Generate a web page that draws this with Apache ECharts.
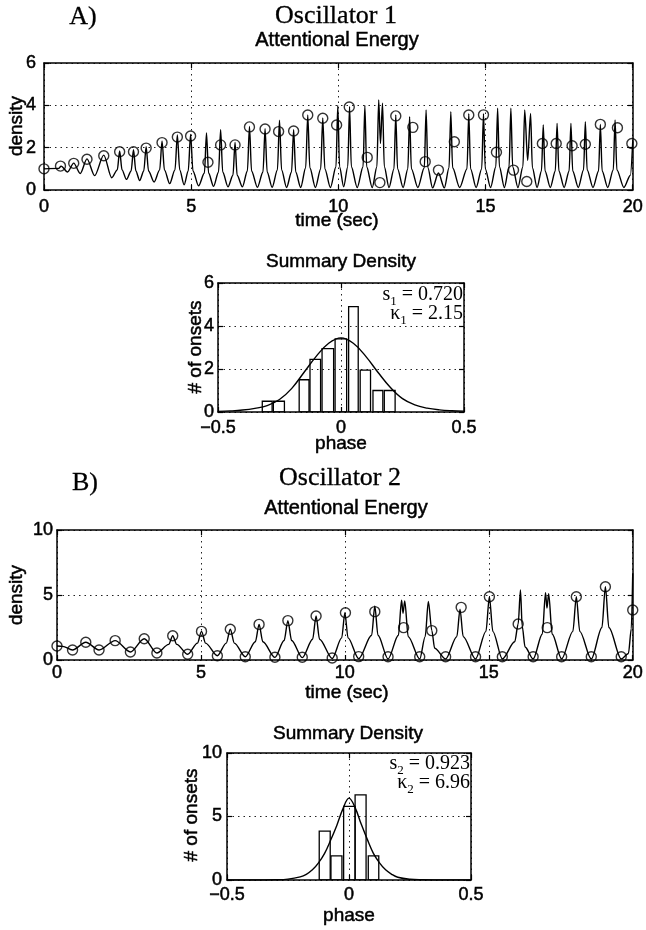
<!DOCTYPE html>
<html><head><meta charset="utf-8">
<script src="https://cdn.jsdelivr.net/npm/echarts@6/dist/echarts.min.js"></script>
<style>html,body{margin:0;padding:0;background:#fff}#c{width:646px;height:930px}</style>
</head><body><div id="c"></div>
<script>
// ---------- DATA ----------
// Oscillator 1: attentional energy curve [time, density]
const oscA_curve = [
[0,1.0],[0.5,1.02],[0.58,1.13],[0.8,0.85],[1.01,1.27],[1.23,0.78],[1.46,1.47],[1.72,0.68],[2.03,1.65],[2.3,0.58],
[2.49,0.95],[2.57,1.85],[2.65,0.95],[2.8,0.5],
[2.96,0.9],[3.04,1.9],[3.12,0.9],[3.25,0.45],
[3.39,0.9],[3.47,2.05],[3.55,0.9],[3.74,0.38],
[3.93,0.95],[4.01,2.32],[4.09,0.95],[4.27,0.3],
[4.45,0.95],[4.53,2.6],[4.61,0.95],[4.76,0.25],
[4.9,0.9],[4.98,2.62],[5.06,0.9],[5.25,0.2],
[5.45,0.8],[5.52,2.7],[5.59,0.8],[5.76,0.17],
[5.93,0.85],[6.0,2.85],[6.07,0.85],[6.25,0.15],
[6.42,0.7],[6.49,2.25],[6.56,0.7],[6.74,0.15],
[6.91,0.9],[6.98,3.0],[7.05,0.9],[7.25,0.13],
[7.44,0.85],[7.51,2.9],[7.58,0.85],[7.75,0.13],
[7.93,0.95],[8.0,3.3],[8.07,0.95],[8.24,0.12],
[8.41,0.85],[8.48,2.85],[8.55,0.85],[8.72,0.12],
[8.89,1.05],[8.96,3.55],[9.03,1.05],[9.22,0.12],
[9.4,1.0],[9.47,3.4],[9.54,1.0],[9.73,0.12],
[9.92,1.1],[9.98,4.0],[10.04,1.1],[10.18,0.15],
[10.32,1.1],[10.38,3.95],[10.44,1.1],[10.64,0.12],
[10.84,1.1],[10.9,4.0],[10.96,1.1],[11.15,0.12],
[11.31,1.1],[11.37,4.25],[11.43,2.2],[11.5,4.1],[11.56,1.1],[11.72,0.12],
[11.89,1.0],[11.95,3.55],[12.01,1.0],[12.2,0.12],
[12.36,1.0],[12.42,3.46],[12.48,1.0],[12.7,0.12],
[12.92,1.05],[12.98,3.78],[13.04,1.05],[13.2,0.1],
[13.4,0.8],[13.6,0.1],
[13.76,1.05],[13.82,3.7],[13.88,1.05],[14.12,0.12],
[14.37,1.0],[14.43,3.6],[14.49,1.0],[14.68,0.12],
[14.87,1.0],[14.93,3.6],[14.99,1.0],[15.17,0.12],
[15.35,1.1],[15.41,3.86],[15.47,1.1],[15.64,0.12],
[15.8,1.1],[15.86,3.86],[15.92,1.1],[16.1,0.12],
[16.27,1.1],[16.33,3.78],[16.43,1.4],[16.53,3.62],[16.59,1.05],[16.75,0.12],
[16.9,0.9],[16.96,3.07],[17.02,0.9],[17.2,0.12],
[17.37,0.9],[17.43,3.15],[17.49,0.9],[17.67,0.12],
[17.84,0.9],[17.9,3.15],[17.96,0.9],[18.15,0.12],
[18.33,0.95],[18.39,3.23],[18.45,0.95],[18.65,0.12],
[18.84,0.9],[18.9,3.1],[18.96,0.9],[19.15,0.12],
[19.34,0.95],[19.4,3.31],[19.46,0.95],[19.7,0.12],
[19.92,0.7],[20,2.3]
];
// Oscillator 1: onsets (circles) [time, density]
const oscA_onsets = [
[0,1.0],[0.56,1.13],[1.01,1.26],[1.46,1.45],[2.03,1.62],[2.57,1.81],[3.04,1.81],[3.47,1.98],[4.01,2.24],[4.53,2.5],
[4.98,2.55],[5.57,1.31],[6.0,2.13],[6.49,2.13],[6.98,2.98],[7.51,2.88],[7.97,2.76],[8.48,2.79],[8.96,3.54],[9.47,3.39],
[9.94,3.07],[10.37,3.92],[10.98,1.54],[11.41,0.35],[11.95,3.5],[12.53,2.96],[12.95,1.34],[13.4,0.94],[13.94,2.28],[14.43,3.54],
[14.93,3.55],[15.37,1.78],[15.95,0.94],[16.4,0.4],[16.93,2.2],[17.4,2.2],[17.94,2.09],[18.39,2.16],[18.9,3.1],[19.48,2.94],[19.97,2.2]
];
// Summary density 1: histogram bars
const histA_left  = [-0.32,-0.275,-0.17,-0.126,-0.077,-0.024,0.031,0.078,0.13,0.176];
const histA_right = [-0.28,-0.23,-0.13,-0.083,-0.03,0.023,0.07,0.12,0.17,0.22];
const histA_count = [0.5,0.5,1.5,2.45,2.95,3.4,4.9,1.95,1.0,1.0];
const fitA_phase = [-0.5,-0.45,-0.4,-0.35,-0.3,-0.25,-0.2,-0.15,-0.1,-0.05,0,0.05,0.1,0.15,0.2,0.25,0.3,0.35,0.4,0.45,0.5];
const fitA_value = [0.03,0.05,0.09,0.17,0.3,0.58,1.1,1.85,2.6,3.2,3.45,3.2,2.6,1.85,1.15,0.62,0.33,0.18,0.1,0.06,0.04];

// Oscillator 2
const oscB_curve = [
[0,1.08],[0.2,1.05],[0.54,0.77],[1.0,1.36],[1.46,0.77],[2.02,1.49],[2.55,0.62],[3.03,1.64],[3.47,0.54],
[3.88,1.2],[4.02,1.87],[4.16,1.2],[4.54,0.44],
[4.88,1.3],[5.02,2.2],[5.16,1.3],[5.57,0.33],
[5.88,1.3],[6.02,2.36],[6.16,1.3],[6.54,0.25],
[6.89,1.4],[7.02,2.74],[7.15,1.4],[7.57,0.2],
[7.89,1.5],[8.02,3.03],[8.15,1.5],[8.52,0.18],
[8.88,1.6],[9.0,3.38],[9.12,1.6],[9.56,0.12],
[9.89,1.7],[10.0,3.64],[10.11,1.7],[10.48,0.1],
[10.93,1.9],[11.04,4.15],[11.15,1.9],[11.5,0.08],
[11.86,1.9],[11.97,4.6],[12.02,3.6],[12.08,4.55],[12.2,1.8],[12.6,0.08],
[12.79,1.8],[12.9,4.5],[13.02,2.26],[13.12,0.9],[13.5,0.08],
[13.89,1.8],[14.0,3.9],[14.11,1.8],[14.54,0.08],
[14.9,2.2],[15.02,4.87],[15.14,2.2],[15.47,0.08],
[15.9,1.4],[16.02,2.77],[16.1,5.38],[16.16,2.6],[16.26,1.0],[16.54,0.08],
[16.86,2.0],[16.97,5.18],[17.02,4.0],[17.08,5.1],[17.2,2.0],[17.53,0.08],
[17.92,2.2],[18.04,4.87],[18.16,2.2],[18.56,0.08],
[18.93,2.5],[19.05,5.64],[19.17,2.5],[19.6,0.08],
[19.85,0.5],[19.95,2.4],[20,6.67]
];
const oscB_onsets = [
[0,1.08],[0.54,0.77],[1.0,1.36],[1.46,0.77],[2.02,1.49],[2.55,0.62],[3.03,1.64],[3.47,0.54],[4.02,1.87],[4.54,0.44],
[5.02,2.2],[5.57,0.33],[6.02,2.36],[6.54,0.25],[7.02,2.74],[7.57,0.21],[8.02,3.03],[8.52,0.21],[9.0,3.38],[9.56,0.15],
[10.02,3.64],[10.48,0.26],[11.04,3.72],[11.5,0.25],[12.04,2.49],[12.6,0.25],[13.02,2.26],[13.5,0.25],[14.04,4.05],[14.54,0.25],
[15.02,4.87],[15.47,0.25],[16.02,2.77],[16.54,0.25],[17.03,2.49],[17.53,0.25],[18.04,4.87],[18.56,0.25],[19.05,5.64],[19.6,0.25],[20.0,3.85]
];
const histB_left  = [-0.122,-0.074,-0.022,0.025,0.079];
const histB_right = [-0.077,-0.029,0.025,0.07,0.122];
const histB_count = [3.85,1.9,5.8,6.7,1.9];
const fitB_phase = [-0.5,-0.4,-0.3,-0.25,-0.2,-0.175,-0.15,-0.125,-0.1,-0.075,-0.05,-0.025,0,0.025,0.05,0.075,0.1,0.125,0.15,0.175,0.2,0.25,0.3,0.4,0.5];
const fitB_value = [0,0,0.02,0.07,0.25,0.45,0.8,1.35,2.1,3.15,4.3,5.6,6.45,5.7,4.4,3.2,2.1,1.35,0.8,0.45,0.22,0.06,0.02,0,0];

// ---------- CHART ----------
const SANS = '"Liberation Sans", Arial, sans-serif';
const SERIF = '"Liberation Serif", "Times New Roman", serif';
const chart = echarts.init(document.getElementById('c'), null, {renderer:'canvas'});

const grids = [
  {left:44, top:63, width:590, height:127},
  {left:218, top:283, width:246, height:129},
  {left:57, top:530, width:578, height:130},
  {left:227, top:753, width:244, height:127}
];
const minus = v => (v < 0 ? '\u2212' : '') + Math.abs(v);
const dotted = {show:true, lineStyle:{color:'#222', width:1, type:[1.5,4]}};
const xAxes = [], yAxes = [];
function addAxes(gi, xmin, xmax, xint, ymin, ymax, yint, xm, ym) {
  const line = {show:true, onZero:false, lineStyle:{color:'#000', width:1.5}};
  const tick = {show:true, inside:true, length:5, lineStyle:{color:'#000', width:1.2}};
  const lab = (m) => ({show:true, margin:m, fontSize:18, fontFamily:SANS, color:'#000',
    textBorderColor:'#000', textBorderWidth:0.5, formatter:minus});
  xAxes.push({gridIndex:gi, type:'value', position:'bottom', min:xmin, max:xmax, interval:xint,
    axisLine:line, axisTick:tick, axisLabel:lab(xm), splitLine:dotted});
  xAxes.push({gridIndex:gi, type:'value', position:'top', min:xmin, max:xmax, interval:xint,
    axisLine:line, axisTick:tick, axisLabel:{show:false}, splitLine:{show:false}});
  yAxes.push({gridIndex:gi, type:'value', position:'left', min:ymin, max:ymax, interval:yint,
    axisLine:line, axisTick:tick, axisLabel:lab(ym), splitLine:dotted});
  yAxes.push({gridIndex:gi, type:'value', position:'right', min:ymin, max:ymax, interval:yint,
    axisLine:line, axisTick:tick, axisLabel:{show:false}, splitLine:{show:false}});
}
addAxes(0, 0, 20, 5, 0, 6, 2, 8, 8);
addAxes(1, -0.5, 0.5, 0.5, 0, 6, 2, 7, 4);
addAxes(2, 0, 20, 5, 0, 10, 5, 4, 4);
addAxes(3, -0.5, 0.5, 0.5, 0, 10, 5, 6, 5);

function barsSeries(gi, left, right, count) {
  return {
    type:'custom', xAxisIndex:gi*2, yAxisIndex:gi*2, clip:true, z:3,
    data: left.map((l,i) => [l, right[i], count[i]]),
    renderItem: (params, api) => {
      const p0 = api.coord([api.value(0), 0]);
      const p1 = api.coord([api.value(1), api.value(2)]);
      return {type:'rect', shape:{x:p0[0], y:p1[1], width:p1[0]-p0[0], height:p0[1]-p1[1]},
        style:{fill:'rgba(255,255,255,0)', stroke:'#000', lineWidth:1.3}};
    }
  };
}
const curveStyle = {color:'#000', width:1.4};
const onsetSeries = (gi, data) => ({type:'scatter', xAxisIndex:gi*2, yAxisIndex:gi*2, data, symbol:'circle', symbolSize:10,
  itemStyle:{color:'rgba(255,255,255,0)', borderColor:'#000', borderWidth:1.4}, z:4});

const series = [
  {type:'line', xAxisIndex:0, yAxisIndex:0, data:oscA_curve, showSymbol:false, smooth:0.3, smoothMonotone:'x', lineStyle:curveStyle, z:3},
  onsetSeries(0, oscA_onsets),
  barsSeries(1, histA_left, histA_right, histA_count),
  {type:'line', xAxisIndex:2, yAxisIndex:2, data:fitA_phase.map((p,i)=>[p, fitA_value[i]]), showSymbol:false, smooth:0.4, lineStyle:curveStyle, z:4},
  {type:'line', xAxisIndex:4, yAxisIndex:4, data:oscB_curve, showSymbol:false, smooth:0.3, smoothMonotone:'x', lineStyle:curveStyle, z:3},
  onsetSeries(2, oscB_onsets),
  barsSeries(3, histB_left, histB_right, histB_count),
  {type:'line', xAxisIndex:6, yAxisIndex:6, data:fitB_phase.map((p,i)=>[p, fitB_value[i]]), showSymbol:false, smooth:0.4, lineStyle:curveStyle, z:4}
];

function txt(x, y, text, font, rot, sw) {
  return {type:'text', x:x, y:y, rotation:rot||0, z:10,
    style:{text:text, font:font, fill:'#000', stroke:'#000', lineWidth:(sw===undefined?0.5:sw),
      textAlign:'center', textVerticalAlign:'middle'}};
}
function annot(x, y, sym, sub, val) {
  return {type:'text', x:x, y:y, z:10, style:{
    text:'{a|'+sym+'}{b|'+sub+'}{a| = '+val+'}', textAlign:'right', textVerticalAlign:'middle', fill:'#000',
    rich:{a:{font:'20px '+SERIF, fill:'#000', height:22, verticalAlign:'top'}, b:{font:'13px '+SERIF, fill:'#000', padding:[11,0,0,0], verticalAlign:'top'}}
  }};
}
const graphic = [
  txt(83, 17, 'A)', '26px '+SERIF, 0, 0.3),
  txt(336, 16, 'Oscillator 1', '26px '+SERIF, 0, 0.3),
  txt(337, 40, 'Attentional Energy', '20px '+SANS),
  txt(17, 126, 'density', '19px '+SANS, Math.PI/2),
  txt(337, 221, 'time (sec)', '19px '+SANS),
  txt(341, 262, 'Summary Density', '19px '+SANS),
  txt(196, 347, '# of onsets', '19px '+SANS, Math.PI/2),
  txt(341, 444, 'phase', '19px '+SANS),
  annot(463, 296, 's', '1', '0.720'),
  annot(463, 315, '\u03ba', '1', '2.15'),
  txt(85, 483, 'B)', '26px '+SERIF, 0, 0.3),
  txt(340, 478, 'Oscillator 2', '26px '+SERIF, 0, 0.3),
  txt(346, 508, 'Attentional Energy', '20px '+SANS),
  txt(17, 595, 'density', '19px '+SANS, Math.PI/2),
  txt(347, 693, 'time (sec)', '19px '+SANS),
  txt(348, 734, 'Summary Density', '19px '+SANS),
  txt(192, 815, '# of onsets', '19px '+SANS, Math.PI/2),
  txt(349, 916, 'phase', '19px '+SANS),
  annot(470, 765, 's', '2', '0.923'),
  annot(470, 784, '\u03ba', '2', '6.96')
];

chart.setOption({
  backgroundColor:'#fff',
  animation:false,
  grid:grids,
  xAxis:xAxes,
  yAxis:yAxes,
  series:series,
  graphic:graphic
});
</script>
</body></html>
